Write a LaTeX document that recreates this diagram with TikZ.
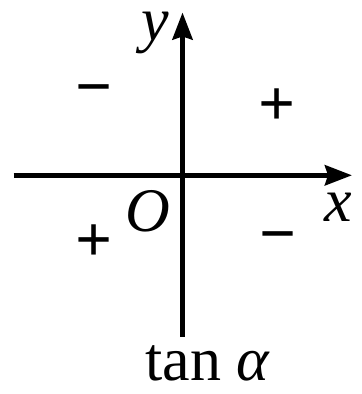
\documentclass[tikz,border=0pt]{standalone}
\usepackage{fontspec}
\setmainfont{Liberation Serif}
\usetikzlibrary{arrows.meta}

\begin{document}
\begin{tikzpicture}[x=0.2pt,y=-0.2pt,
  axis/.style={line width=1pt,-{Stealth[length=5.4pt,width=4pt,inset=0.6pt]}},
  lbl/.style={inner sep=0pt,font=\fontsize{12.4}{14}\selectfont},
  sgn/.style={inner sep=0pt,font=\fontsize{13}{15}\selectfont\bfseries}]
  \useasboundingbox (0,0) rectangle (361,394);
  % 原点与坐标轴端点
  \def\Ox{182.5} \def\Oy{175.3}
  \coordinate (O) at (\Ox,\Oy);
  \coordinate (xl) at (13.5,\Oy);
  \coordinate (xr) at (352,\Oy);
  \coordinate (yb) at (\Ox,336.5);
  \coordinate (yt) at (\Ox,12.5);

  % 画坐标轴
  \draw[axis] (xl) -- (xr);
  \draw[axis] (yb) -- (yt);

  % 轴标签
  \node[lbl,anchor=base] (ylab) at (155,41) {\textit{y}};
  \node[lbl,anchor=base] (xlab) at (338,222) {\textit{x}};
  \node[lbl,anchor=base] (olab) at (148,232) {\textit{O}};

  % 各象限符号
  \foreach \px/\py/\s/\n in {94/97/−/q2, 277.5/107.5/+/q1, 94/243/+/q3, 278/244/−/q4}{
    \node[sgn] (\n) at (\px,\py) {\s};
  }

  \node[lbl,anchor=base] (name) at (208,380) {tan \textit{α}};
\end{tikzpicture}
\end{document}
